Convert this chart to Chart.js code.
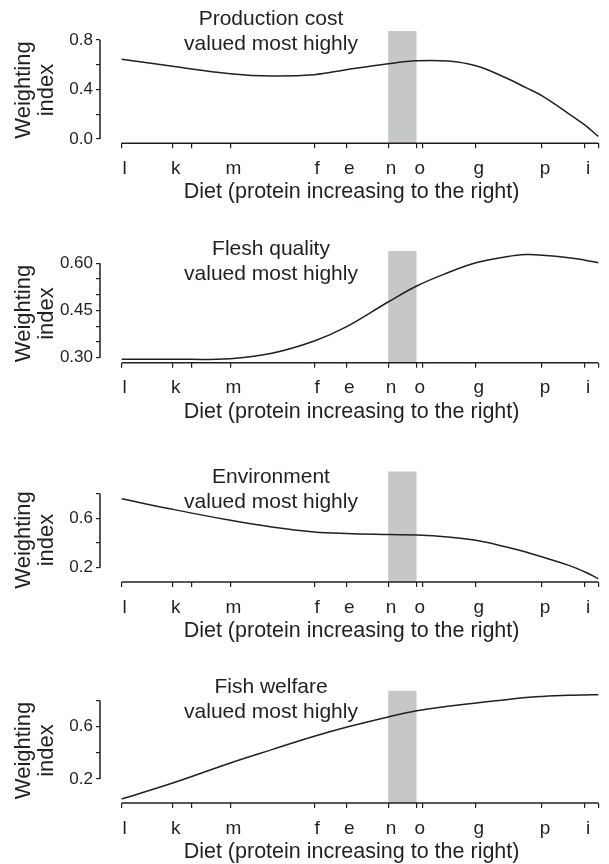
<!DOCTYPE html>
<html lang="en">
<head>
  <meta charset="UTF-8">
  <title>Weighting index by diet</title>
  <script src="https://cdn.jsdelivr.net/npm/chart.js"></script>
  <style>
    body { margin: 0; background: #fff; }
    canvas { display: block; }
  </style>
</head>
<body>
  <canvas id="panel0" width="609" height="216"></canvas>
  <canvas id="panel1" width="609" height="216"></canvas>
  <canvas id="panel2" width="609" height="216"></canvas>
  <canvas id="panel3" width="609" height="216"></canvas>
  <script>
    // diets along the x axis (protein increasing to the right), unlabeled ticks are ''
    const dietTicks = [0, 10.7, 14.6, 22.8, 40.4, 47.1, 55.9, 61.9, 63.1, 74.3, 88.2, 97.2, 100];
    const dietLabels = ['l', 'k', '', 'm', 'f', 'e', 'n', 'o', '', 'g', 'p', 'i', ''];

    // shaded diet range
    const bandFrom = 'n';
    const bandTo = 'o';

    // weighting index sampled along the diet axis
    const curveX = [0, 10.7, 22.8, 31.5, 40.4, 47.1, 55.9, 61.9, 68.4, 74.3, 80.7, 84.8, 88.3, 93.8, 97.2, 100];
    const productionCost = [0.645, 0.587, 0.528, 0.509, 0.520, 0.560, 0.608, 0.632, 0.630, 0.592, 0.493, 0.415, 0.347, 0.204, 0.112, 0.021];
    const fleshQuality = [0.295, 0.295, 0.297, 0.314, 0.353, 0.398, 0.477, 0.528, 0.570, 0.602, 0.621, 0.628, 0.626, 0.618, 0.610, 0.602];
    const environment = [0.759, 0.673, 0.584, 0.530, 0.490, 0.477, 0.469, 0.465, 0.449, 0.422, 0.368, 0.327, 0.286, 0.219, 0.165, 0.111];
    const fishWelfare = [0.047, 0.169, 0.323, 0.425, 0.527, 0.596, 0.675, 0.723, 0.757, 0.782, 0.808, 0.825, 0.833, 0.841, 0.844, 0.846];

    // height of the shaded band in each panel
    const bandTop = [0.872, 0.639, 0.98, 0.877];

    const panelNames = ['Production cost', 'Flesh quality', 'Environment', 'Fish welfare'];
    const series = [productionCost, fleshQuality, environment, fishWelfare];

    const yTicks = [
      [0, 0.2, 0.4, 0.6, 0.8],
      [0.30, 0.35, 0.40, 0.45, 0.50, 0.55, 0.60],
      [0.2, 0.4, 0.6, 0.8],
      [0.2, 0.4, 0.6, 0.8]
    ];
    const yTickLabels = [
      ['0.0', '', '0.4', '', '0.8'],
      ['0.30', '', '', '0.45', '', '', '0.60'],
      ['0.2', '', '0.6', ''],
      ['0.2', '', '0.6', '']
    ];

    // per-panel geometry
    const frames = [
      { yMin: -0.0347, yMax: 0.9616, padBottom: 12.7, titleY: 90, noteY: 19 },
      { yMin: 0.2841, yMax: 0.6868, padBottom: 9.3, titleY: 97.5, noteY: 33 },
      { yMin: 0.084, yMax: 1.138, padBottom: 6, titleY: 108, noteY: 45 },
      { yMin: 0.016, yMax: 1.0506, padBottom: 1, titleY: 102.5, noteY: 39 }
    ];

    const ink = '#231f20';
    const family = '"Liberation Sans", Arial, Helvetica, sans-serif';

    const dietPos = name => dietTicks[dietLabels.indexOf(name)];

    // detached axis lines, rotated y title and the note above each curve
    const panelDecor = {
      id: 'panelDecor',
      afterDraw(chart, args, opts) {
        const { ctx, chartArea, scales: { x, y } } = chart;
        const yt = opts.yTicks;
        ctx.save();
        ctx.strokeStyle = ink;
        ctx.lineWidth = 1.5;
        ctx.beginPath();
        ctx.moveTo(chartArea.left, y.getPixelForValue(yt[0]));
        ctx.lineTo(chartArea.left, y.getPixelForValue(yt[yt.length - 1]));
        ctx.moveTo(x.getPixelForValue(dietTicks[0]), chartArea.bottom);
        ctx.lineTo(x.getPixelForValue(dietTicks[dietTicks.length - 1]), chartArea.bottom);
        ctx.stroke();

        ctx.fillStyle = ink;
        ctx.textAlign = 'center';
        ctx.textBaseline = 'middle';
        ctx.font = '21px ' + family;
        ctx.fillText(opts.note, 271, opts.noteY);
        ctx.fillText('valued most highly', 271, opts.noteY + 25);

        ctx.font = '22px ' + family;
        ctx.translate(23.5, opts.titleY);
        ctx.rotate(-Math.PI / 2);
        ctx.fillText('Weighting', 0, 0);
        ctx.fillText('index', 0, 23.5);
        ctx.restore();
      }
    };

    panelNames.forEach((name, p) => {
      const frame = frames[p];
      const ctx = document.getElementById('panel' + p).getContext('2d');
      new Chart(ctx, {
        type: 'line',
        data: {
          datasets: [
            {
              data: curveX.map((x, i) => ({ x: x, y: series[p][i] })),
              borderColor: ink,
              borderWidth: 1.5,
              pointRadius: 0,
              tension: 0.4,
              fill: false,
              clip: false
            },
            {
              data: [{ x: dietPos(bandFrom), y: bandTop[p] }, { x: dietPos(bandTo), y: bandTop[p] }],
              borderWidth: 0,
              pointRadius: 0,
              backgroundColor: '#c6c7c9',
              fill: 'start'
            }
          ]
        },
        options: {
          responsive: false,
          animation: false,
          devicePixelRatio: 1,
          events: [],
          layout: { padding: { top: 20, right: 5.9, bottom: frame.padBottom, left: 0 } },
          plugins: {
            legend: { display: false },
            tooltip: { enabled: false },
            panelDecor: { yTicks: yTicks[p], note: name, noteY: frame.noteY, titleY: frame.titleY }
          },
          scales: {
            x: {
              type: 'linear',
              min: -4.55,
              max: 101,
              afterBuildTicks: scale => { scale.ticks = dietTicks.map(v => ({ value: v })); },
              afterFit: scale => { scale.height = 60; },
              grid: { drawOnChartArea: false, drawTicks: true, tickLength: 5, color: ink, lineWidth: 1.2 },
              border: { display: false },
              ticks: {
                autoSkip: false,
                maxRotation: 0,
                padding: 9,
                labelOffset: 3,
                color: ink,
                font: { family: family, size: 19 },
                callback: (v, i) => dietLabels[i]
              },
              title: {
                display: true,
                text: 'Diet (protein increasing to the right)',
                color: ink,
                font: { family: family, size: 21.5, lineHeight: 1.0 },
                padding: 0
              }
            },
            y: {
              type: 'linear',
              min: frame.yMin,
              max: frame.yMax,
              afterBuildTicks: scale => { scale.ticks = yTicks[p].map(v => ({ value: v })); },
              afterFit: scale => { scale.width = 100; },
              grid: { drawOnChartArea: false, drawTicks: true, tickLength: 4, color: ink, lineWidth: 1.2 },
              border: { display: false },
              ticks: {
                autoSkip: false,
                padding: 3,
                color: ink,
                font: { family: family, size: 17 },
                callback: (v, i) => yTickLabels[p][i]
              }
            }
          }
        },
        plugins: [panelDecor]
      });
    });
  </script>
</body>
</html>
